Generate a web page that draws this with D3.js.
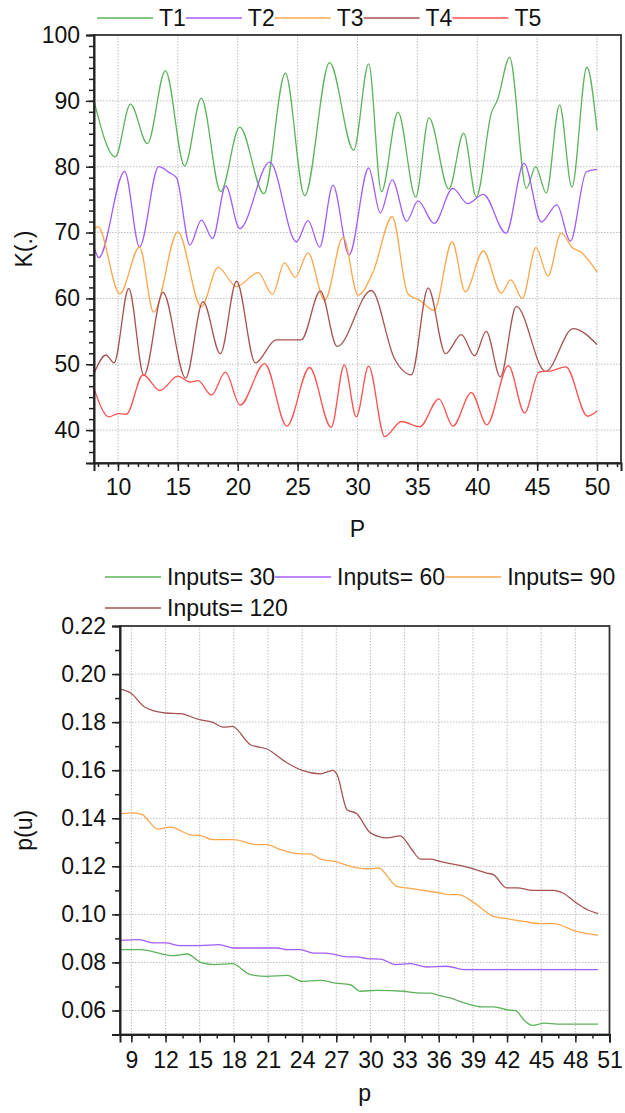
<!DOCTYPE html>
<html>
<head>
<meta charset="utf-8">
<style>
  body { margin: 0; background: #fff; }
  text { font-family: "Liberation Sans", Arial, sans-serif; fill: #111; }
</style>
</head>
<body>
<svg id="chart" width="625" height="1113"></svg>
<script src="https://cdn.jsdelivr.net/npm/d3@7"></script>
<script>
// top chart: K(.) against P
const topNames = ["T1", "T2", "T3", "T4", "T5"];
const topColors = ["#5cb35c", "#a35cff", "#ffa64d", "#a65252", "#ff5050"];
const topXTicks = [10, 15, 20, 25, 30, 35, 40, 45, 50];
const topYTicks = [40, 50, 60, 70, 80, 90, 100];

const t1 = [[8,90.0],[9.78,81.5],[11.04,89.5],[12.46,83.5],[13.96,94.6],[15.57,80.1],[16.96,90.4],[18.58,76.2],[20.16,86.0],[22.19,75.9],[23.97,94.2],[25.59,75.6],[27.67,95.8],[29.68,82.5],[30.93,95.6],[32.0,76.2],[33.38,88.3],[34.86,75.4],[35.97,87.4],[37.63,76.6],[38.86,85.1],[39.92,75.4],[41.17,88.1],[41.7,90.2],[42.7,96.6],[44.1,76.7],[44.87,80.0],[45.76,76.0],[46.87,89.4],[47.9,76.9],[49.15,95.1],[50,85.5]];
const t2 = [[8,67.8],[8.4,66.2],[10.56,79.3],[11.8,67.8],[13.4,80.0],[14.3,79.1],[14.9,78.3],[16.0,68.1],[16.97,71.9],[17.9,69.1],[19.0,77.1],[20.16,70.6],[22.67,80.7],[24.9,68.6],[25.87,71.8],[26.84,67.8],[27.95,77.2],[29.3,66.6],[30.93,79.8],[31.9,73.0],[32.9,78.0],[34.1,71.7],[35.05,74.8],[36.4,71.4],[37.96,76.7],[39.2,74.4],[40.5,75.8],[42.4,69.9],[43.9,80.5],[45.35,71.6],[46.65,74.2],[47.77,68.7],[49.1,79.2],[50,79.6]];
const t3 = [[8,70.4],[8.33,70.9],[10.15,60.7],[11.8,67.8],[12.98,57.9],[15.0,70.1],[16.96,58.7],[18.35,64.7],[19.9,61.8],[21.7,63.9],[22.9,60.6],[23.9,65.4],[24.8,63.2],[25.87,66.9],[27.26,59.7],[28.8,69.3],[30.04,60.5],[31.3,64.0],[32.9,72.4],[34.2,60.7],[35.2,59.7],[36.4,58.2],[37.9,68.6],[39.0,61.0],[40.5,67.2],[42.0,60.8],[42.8,62.8],[43.76,60.0],[44.9,67.7],[45.9,63.4],[47.0,69.9],[48.0,67.6],[48.6,67.1],[50,64.0]];
const t4 = [[8,48.6],[9.0,51.4],[9.67,50.2],[10.9,61.5],[12.17,48.3],[13.76,60.9],[15.65,47.9],[17.1,59.5],[18.55,51.6],[19.9,62.6],[21.47,50.2],[23.2,53.7],[25.3,53.7],[26.9,61.1],[28.3,52.7],[31.15,61.2],[33.1,50.8],[34.5,48.4],[35.9,61.6],[37.35,51.6],[38.67,54.5],[39.78,51.3],[40.75,55.0],[41.92,48.1],[43.26,58.8],[45.7,48.9],[48.0,55.4],[50,53.0]];
const t5 = [[8,46.3],[9.25,42.0],[10.0,42.5],[10.7,42.4],[12.1,48.4],[13.5,46.0],[15.0,48.2],[16.0,47.3],[16.7,47.5],[17.8,45.3],[18.97,48.8],[20.2,43.8],[22.25,50.1],[24.1,40.6],[26.0,49.5],[27.8,40.4],[28.9,49.9],[29.9,42.0],[30.93,49.7],[32.27,39.0],[33.66,41.3],[35.2,40.5],[36.8,44.75],[37.97,40.6],[39.5,45.7],[40.8,40.8],[42.6,49.8],[43.95,42.6],[45.15,48.8],[46.2,49.0],[47.4,49.6],[49.2,42.1],[50,42.9]];
const topSeries = [t1, t2, t3, t4, t5];

// bottom chart: p(u) against p
const botNames = ["Inputs= 30", "Inputs= 60", "Inputs= 90", "Inputs= 120"];
const botColors = ["#5cb35c", "#a35cff", "#ffa64d", "#a65252"];
const botXTicks = [9, 12, 15, 18, 21, 24, 27, 30, 33, 36, 39, 42, 45, 48, 51];
const botYTicks = [0.06, 0.08, 0.10, 0.12, 0.14, 0.16, 0.18, 0.20, 0.22];

const in30 = [[8,0.0853],[9.8,0.0853],[12.0,0.0832],[12.6,0.0828],[13.9,0.0835],[15.08,0.0800],[16.25,0.0791],[17.86,0.0795],[19.46,0.0749],[20.9,0.0742],[22.7,0.0746],[24.0,0.0721],[25.6,0.0725],[26.9,0.0714],[28.24,0.0707],[29.1,0.0680],[30.6,0.0684],[32.9,0.0680],[34.1,0.0673],[35.25,0.0672],[36.0,0.0663],[37.0,0.0652],[38.3,0.0631],[39.8,0.0615],[40.8,0.0615],[42.27,0.0601],[42.7,0.0600],[43.6,0.0555],[44.2,0.0538],[45.3,0.0547],[46.4,0.0543],[50,0.0543]];
const in60 = [[8,0.0892],[9.67,0.0895],[10.98,0.0881],[12.0,0.0881],[13.3,0.0870],[15.0,0.0870],[16.7,0.0874],[18.0,0.0860],[21.8,0.0860],[22.7,0.0853],[23.85,0.0853],[25.0,0.0839],[26.05,0.0839],[27.95,0.0823],[28.8,0.0823],[29.7,0.0816],[30.9,0.0814],[32.2,0.0791],[33.5,0.0795],[34.96,0.0781],[36.7,0.0784],[38.2,0.0770],[50,0.0770]];
const in90 = [[8,0.1418],[9.2,0.1422],[9.96,0.1415],[11.3,0.1355],[12.45,0.1363],[14.2,0.1331],[15.0,0.1329],[16.1,0.1311],[18.0,0.1311],[20.05,0.1290],[20.9,0.1290],[22.1,0.1269],[23.85,0.1252],[24.7,0.1252],[25.6,0.1230],[26.9,0.1220],[28.24,0.1200],[30.0,0.1189],[30.7,0.1193],[32.33,0.1116],[33.2,0.1110],[35.84,0.1091],[37.0,0.1082],[37.74,0.1082],[39.05,0.1050],[40.8,0.0992],[41.98,0.0982],[43.44,0.0971],[44.9,0.0961],[46.1,0.0961],[48.1,0.0929],[50,0.0913]];
const in120 = [[8,0.1937],[8.94,0.1921],[10.16,0.1863],[12.0,0.1838],[13.3,0.1835],[15.0,0.1810],[16.1,0.1800],[17.1,0.1779],[17.86,0.1782],[19.46,0.1706],[20.9,0.1688],[22.7,0.1630],[24.0,0.1599],[25.6,0.1585],[26.7,0.1599],[27.07,0.1581],[27.95,0.1435],[28.8,0.1419],[30.0,0.1339],[31.46,0.1318],[32.6,0.1327],[33.65,0.1269],[34.38,0.1230],[35.25,0.1230],[36.1,0.1220],[38.76,0.1193],[40.2,0.1172],[40.8,0.1165],[41.98,0.1110],[42.86,0.1110],[44.3,0.1100],[46.1,0.1100],[46.9,0.1089],[48.1,0.1047],[49.15,0.1017],[50,0.1003]];
const botSeries = [in30, in60, in90, in120];

const svg = d3.select("#chart");
const FONT = 23;

function stepTicks(lo, hi, start, step) {
  const out = [];
  for (let v = start; v >= lo - 1e-9; v -= step) out.push(v);
  for (let v = start + step; v <= hi + 1e-9; v += step) out.push(v);
  return out;
}

function drawPanel(o) {
  const g = svg.append("g");
  const x = d3.scaleLinear().domain(o.xDomain).range([o.left, o.right]);
  const y = d3.scaleLinear().domain(o.yDomain).range([o.bottom, o.top]);

  // grid
  g.append("g").selectAll("line").data(o.xTicks.filter(v => v < o.xDomain[1])).join("line")
    .attr("x1", d => x(d)).attr("x2", d => x(d))
    .attr("y1", o.top).attr("y2", o.bottom)
    .attr("stroke", "#bdbdbd").attr("stroke-width", 1).attr("stroke-dasharray", "1.5,1.5");
  g.append("g").selectAll("line").data(o.yTicks.filter(v => v > o.yDomain[0] && v < o.yDomain[1] - 1e-9)).join("line")
    .attr("x1", o.left).attr("x2", o.right)
    .attr("y1", d => y(d)).attr("y2", d => y(d))
    .attr("stroke", "#bdbdbd").attr("stroke-width", 1).attr("stroke-dasharray", "1.5,1.5");

  // lines
  const line = d3.line().x(d => x(d[0])).y(d => y(d[1])).curve(d3.curveMonotoneX);
  o.series.forEach((s, i) => {
    g.append("path").datum(s).attr("d", line)
      .attr("fill", "none").attr("stroke", o.colors[i]).attr("stroke-width", 1.3);
  });

  // frame
  g.append("rect").attr("x", o.left).attr("y", o.top)
    .attr("width", o.right - o.left).attr("height", o.bottom - o.top)
    .attr("fill", "none").attr("stroke", "#333").attr("stroke-width", 1.8);

  // minor ticks
  g.append("g").attr("transform", `translate(0,${o.bottom})`)
    .call(d3.axisBottom(x).tickValues(o.xMinor).tickSize(4).tickFormat(""))
    .call(a => a.select(".domain").remove());
  g.append("g").attr("transform", `translate(${o.left},0)`)
    .call(d3.axisLeft(y).tickValues(o.yMinor).tickSize(5).tickFormat(""))
    .call(a => a.select(".domain").remove());

  // major ticks
  const ax = g.append("g").attr("transform", `translate(0,${o.bottom})`)
    .call(d3.axisBottom(x).tickValues(o.xTicks).tickSize(8).tickPadding(o.xPad).tickFormat(o.xFormat));
  const ay = g.append("g").attr("transform", `translate(${o.left},0)`)
    .call(d3.axisLeft(y).tickValues(o.yTicks).tickSize(8).tickPadding(6).tickFormat(o.yFormat));
  [ax, ay].forEach(a => {
    a.select(".domain").attr("stroke", "#222").attr("stroke-width", 2);
    a.selectAll("text").attr("font-size", FONT).attr("fill", "#111")
      .style("font-family", '"Liberation Sans", Arial, sans-serif');
  });
  g.selectAll("line").filter(function () { return this.parentNode.classList.contains("tick"); })
    .attr("stroke", "#222").attr("stroke-width", 1.5);

  // titles
  g.append("text").attr("x", (o.left + o.right) / 2).attr("y", o.xTitleY)
    .attr("text-anchor", "middle").attr("font-size", FONT).text(o.xTitle);
  g.append("text").attr("transform", `translate(${o.yTitleX},${(o.top + o.bottom) / 2}) rotate(-90)`)
    .attr("text-anchor", "middle").attr("font-size", FONT).text(o.yTitle);

  // legend
  const lg = g.append("g");
  let cx = o.legendX, row = 0;
  o.names.forEach((n, i) => {
    if (o.legendBreak && i === o.legendBreak) { row++; cx = o.legendX; }
    const ly = o.legendY + row * o.legendRow;
    lg.append("line").attr("x1", cx).attr("x2", cx + 56).attr("y1", ly).attr("y2", ly)
      .attr("stroke", o.colors[i]).attr("stroke-width", 1.3);
    const t = lg.append("text").attr("x", cx + 62).attr("y", ly).attr("dy", "0.36em")
      .attr("font-size", FONT).text(n);
    cx = cx + 62 + t.node().getComputedTextLength();
  });
}

drawPanel({
  left: 94, right: 621, top: 35, bottom: 463,
  xDomain: [8, 52], yDomain: [35, 100],
  xTicks: topXTicks, yTicks: topYTicks,
  xMinor: stepTicks(8, 52, 10, 5 / 6), yMinor: stepTicks(35, 100, 40, 10 / 6),
  xFormat: d3.format("d"), yFormat: d3.format("d"), xPad: 8,
  series: topSeries, colors: topColors, names: topNames,
  xTitle: "P", xTitleY: 537, yTitle: "K(.)", yTitleX: 32,
  legendX: 97, legendY: 18, legendRow: 0
});

drawPanel({
  left: 120, right: 609.5, top: 626, bottom: 1034.5,
  xDomain: [8, 51], yDomain: [0.05, 0.22],
  xTicks: botXTicks, yTicks: botYTicks,
  xMinor: stepTicks(8, 51, 9, 1.5), yMinor: stepTicks(0.05, 0.22, 0.06, 0.01),
  xFormat: d3.format("d"), yFormat: d3.format(".2f"), xPad: 9,
  series: botSeries, colors: botColors, names: botNames,
  xTitle: "p", xTitleY: 1101, yTitle: "p(u)", yTitleX: 32,
  legendX: 105, legendY: 577, legendRow: 31, legendBreak: 3
});
</script>
</body>
</html>
